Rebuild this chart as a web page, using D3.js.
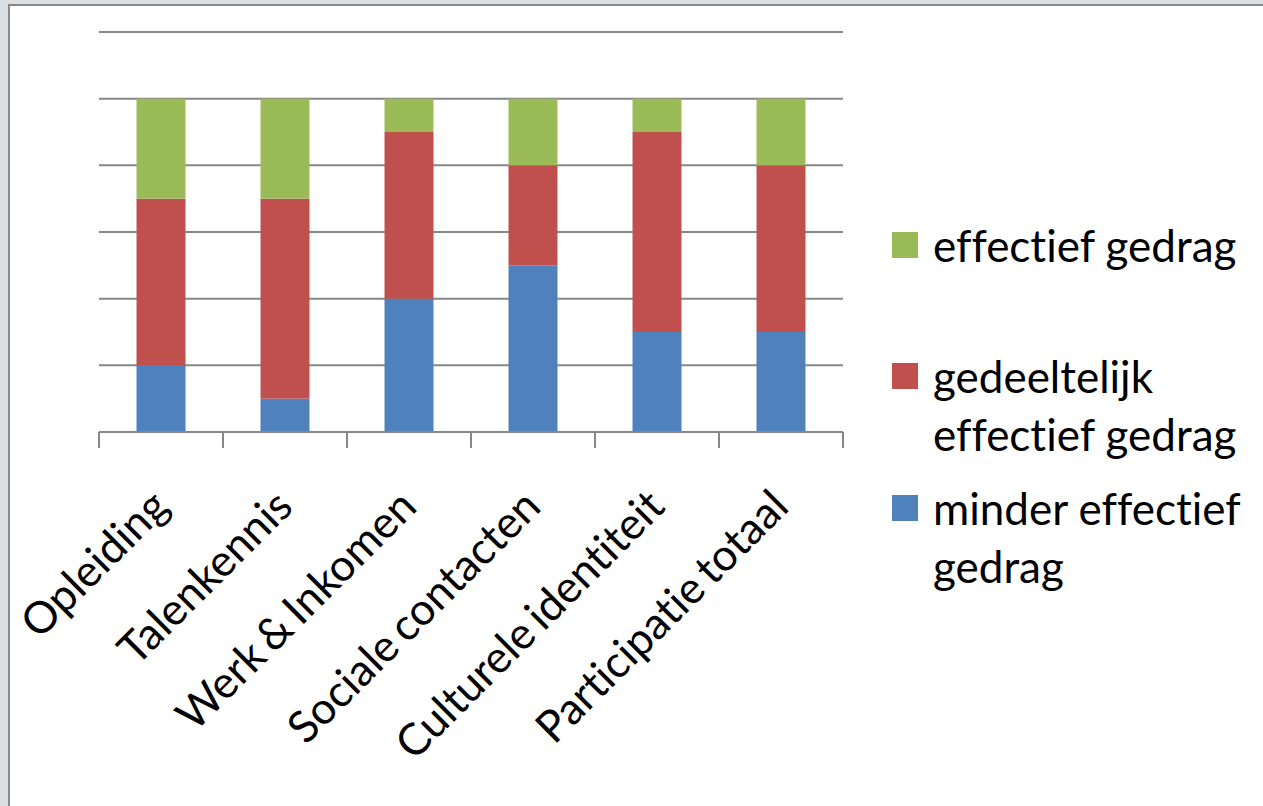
<!DOCTYPE html>
<html lang="nl">
<head>
  <meta charset="UTF-8">
  <title>Gedrag per domein</title>
  <script src="https://d3js.org/d3.v7.min.js"></script>
  <style>
    html, body { margin: 0; padding: 0; background: #dcdfe2; overflow: hidden; }
    text { font-family: Lato, "Open Sans", sans-serif; fill: #000;
           font-variant-ligatures: none; font-feature-settings: "liga" 0, "clig" 0; }
  </style>
</head>
<body>
  <div id="chart"></div>
  <script>
    // data
    var categories = ["Opleiding", "Talenkennis", "Werk & Inkomen", "Sociale contacten", "Culturele identiteit", "Participatie totaal"];
    var minderEffectief = [1, 0.5, 2, 2.5, 1.5, 1.5];
    var gedeeltelijk = [2.5, 3, 2.5, 1.5, 3, 2.5];
    var effectief = [1.5, 1.5, 0.5, 1, 0.5, 1];
    var yTicks = [0, 1, 2, 3, 4, 5, 6];
    var seriesNames = ["minder effectief gedrag", "gedeeltelijk effectief gedrag", "effectief gedrag"];
    var colors = ["#4F81BD", "#C0504D", "#9BBB59"];

    var W = 1263, H = 806;
    var plot = {left: 99, right: 843, top: 32, bottom: 432};

    var svg = d3.select("#chart").append("svg")
      .attr("width", W).attr("height", H);

    // frame
    svg.append("rect").attr("width", W).attr("height", H).attr("fill", "#dcdfe2");
    svg.append("rect").attr("x", 9).attr("y", 5).attr("width", W).attr("height", H).attr("fill", "#fff");
    svg.append("path").attr("d", "M9," + H + "V5H" + W)
      .attr("fill", "none").attr("stroke", "#898989").attr("stroke-width", 2);

    var x = d3.scaleBand().domain(categories).range([plot.left, plot.right]).paddingInner(0.605).paddingOuter(0.3025);
    var xb = d3.scaleBand().domain(categories).range([plot.left, plot.right]);
    var y = d3.scaleLinear().domain([0, 6]).range([plot.bottom, plot.top]);

    // gridlines
    svg.append("g").selectAll("line").data(yTicks.slice(1)).enter().append("line")
      .attr("x1", plot.left).attr("x2", plot.right)
      .attr("y1", function(d) { return y(d); }).attr("y2", function(d) { return y(d); })
      .attr("stroke", "#878787").attr("stroke-width", 2);

    // stacked bars
    var rows = categories.map(function(c, i) {
      return {cat: c, s0: minderEffectief[i], s1: gedeeltelijk[i], s2: effectief[i]};
    });
    var stack = d3.stack().keys(["s0", "s1", "s2"])(rows);
    svg.append("g").selectAll("g").data(stack).enter().append("g")
      .attr("fill", function(d, i) { return colors[i]; })
      .selectAll("rect").data(function(d) { return d; }).enter().append("rect")
      .attr("x", function(d) { return x(d.data.cat); })
      .attr("width", x.bandwidth())
      .attr("y", function(d) { return y(d[1]); })
      .attr("height", function(d) { return y(d[0]) - y(d[1]); });

    // x axis (ticks between categories)
    var bounds = categories.map(function(c) { return xb(c); }).concat([plot.right]);
    var ax = svg.append("g");
    ax.append("line").attr("x1", plot.left).attr("x2", plot.right)
      .attr("y1", y(0)).attr("y2", y(0)).attr("stroke", "#878787").attr("stroke-width", 2);
    ax.selectAll("line.tick").data(bounds).enter().append("line").attr("class", "tick")
      .attr("x1", function(d) { return d; }).attr("x2", function(d) { return d; })
      .attr("y1", y(0)).attr("y2", y(0) + 16)
      .attr("stroke", "#878787").attr("stroke-width", 2);

    ax.selectAll("text").data(categories).enter().append("text")
      .attr("transform", function(d) {
        return "translate(" + (xb(d) + xb.bandwidth() / 2 - 1) + "," + (y(0) + 66) + ") rotate(-45)";
      })
      .attr("text-anchor", "end")
      .attr("dy", "0.35em")
      .style("font-size", "44px")
      .style("word-spacing", "-4px")
      .text(function(d) { return d; });

    // legend
    var legend = [
      {i: 2, lines: ["effectief gedrag"], top: 232},
      {i: 1, lines: ["gedeeltelijk", "effectief gedrag"], top: 363},
      {i: 0, lines: ["minder effectief", "gedrag"], top: 495}
    ];
    var lg = svg.append("g");
    legend.forEach(function(l) {
      lg.append("rect").attr("x", 892).attr("y", l.top).attr("width", 26).attr("height", 26)
        .attr("fill", colors[l.i]);
      var t = lg.append("text").attr("x", 933).attr("y", l.top + 30).style("font-size", "44px");
      l.lines.forEach(function(s, k) {
        t.append("tspan").attr("x", 933).attr("dy", k === 0 ? 0 : 58).text(s);
      });
    });
  </script>
</body>
</html>
